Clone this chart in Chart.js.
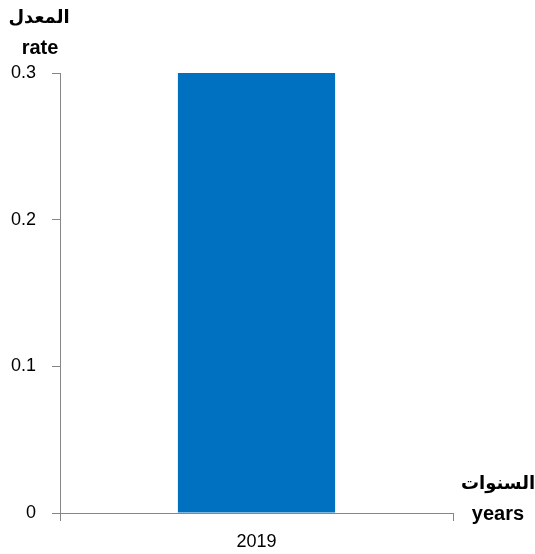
<!DOCTYPE html>
<html>
<head>
<meta charset="utf-8">
<script src="https://cdn.jsdelivr.net/npm/chart.js@4"></script>
<style>
  html, body { margin: 0; padding: 0; background: #fff; }
  #wrap { width: 535px; height: 554px; position: relative; }
</style>
</head>
<body>
<div id="wrap"><canvas id="chart" width="535" height="554"></canvas></div>
<script>
// chart data
const years = ['2019'];
const rates = [0.3];
const yTicks = [0, 0.1, 0.2, 0.3];

const axisColor = '#868686';
const tickFont = { family: 'Liberation Sans, Arial, sans-serif', size: 18 };

// axis titles (arabic + english) placed like the original
const axisTitles = {
  id: 'axisTitles',
  afterDraw(chart) {
    const ctx = chart.ctx;
    ctx.save();
    ctx.fillStyle = '#000';
    ctx.textAlign = 'center';
    ctx.textBaseline = 'alphabetic';
    ctx.font = 'bold 18px "DejaVu Sans", sans-serif';
    ctx.fillText('المعدل', 39, 23);
    ctx.fillText('السنوات', 498, 489);
    ctx.font = 'bold 20px "Liberation Sans", Arial, sans-serif';
    ctx.fillText('rate', 40, 54);
    ctx.fillText('years', 498, 520);
    ctx.restore();
  }
};

new Chart(document.getElementById('chart'), {
  type: 'bar',
  data: {
    labels: years,
    datasets: [{
      data: rates,
      backgroundColor: '#0070C0',
      borderWidth: 0,
      categoryPercentage: 0.4,
      barPercentage: 1.0,
    }],
  },
  options: {
    responsive: false,
    animation: false,
    layout: { padding: { left: 0, right: 82, top: 73, bottom: 0 } },
    plugins: { legend: { display: false }, tooltip: { enabled: false } },
    scales: {
      x: {
        grid: { drawOnChartArea: false, drawTicks: true, tickLength: 8, color: axisColor },
        border: { color: axisColor, width: 1 },
        ticks: { color: '#000', font: tickFont, padding: 10, maxRotation: 0 },
        afterFit(scale) { scale.height = 41; },
      },
      y: {
        min: 0,
        max: 0.3,
        afterBuildTicks(scale) { scale.ticks = yTicks.map(v => ({ value: v })); },
        grid: { drawOnChartArea: false, drawTicks: true, tickLength: 8, color: axisColor },
        border: { color: axisColor, width: 1 },
        ticks: {
          color: '#000',
          font: tickFont,
          padding: 16,
          callback: v => String(v),
        },
        afterFit(scale) { scale.width = 60; },
      },
    },
  },
  plugins: [axisTitles],
});
</script>
</body>
</html>
